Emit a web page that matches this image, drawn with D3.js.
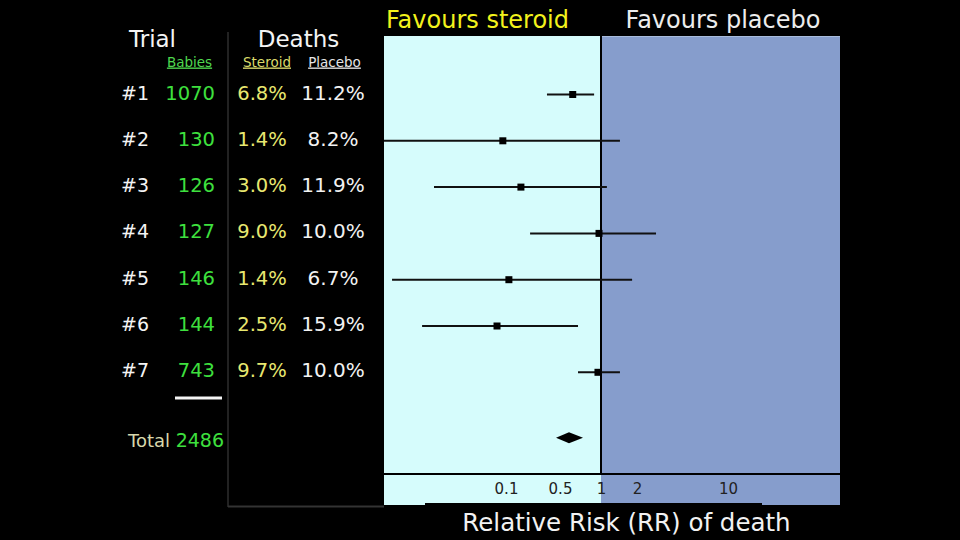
<!DOCTYPE html>
<html>
<head>
<meta charset="utf-8">
<script src="https://cdn.jsdelivr.net/npm/d3@7"></script>
<style>
  html, body { margin: 0; padding: 0; background: #000; }
  svg { display: block; font-family: "DejaVu Sans", Verdana, sans-serif; }
</style>
</head>
<body>
<svg id="chart" width="960" height="540"></svg>
<script>
// ---- data ----
const trials = ["#1", "#2", "#3", "#4", "#5", "#6", "#7"];
const babies = [1070, 130, 126, 127, 146, 144, 743];
const steroidDeaths = [6.8, 1.4, 3.0, 9.0, 1.4, 2.5, 9.7];
const placeboDeaths = [11.2, 8.2, 11.9, 10.0, 6.7, 15.9, 10.0];
const rrPoint = [0.62, 0.091, 0.156, 0.967, 0.109, 0.0765, 0.95];
const rrLow = [0.339, 0.002, 0.0117, 0.205, 0.00335, 0.0082, 0.678];
const rrHigh = [0.89, 1.44, 1.12, 2.80, 1.82, 0.678, 1.44];
const totalBabies = 2486;
const pooledRR = [0.582];
const pooledLow = [0.444];
const pooledHigh = [0.738];
const tickValues = [0.1, 0.5, 1, 2, 10];
const tickLabels = ["0.1", "0.5", "1", "2", "10"];

// ---- layout ----
const svg = d3.select("#chart");
const plot = { left: 384, right: 840, top: 36, axisY: 474, bottom: 505 };

const x = d3.scaleLog()
  .domain(tickValues)
  .range([506, 560, 601, 637, 728]);

// row positions (index 7.5 = total row)
const y = d3.scaleLinear().domain([0, 1]).range([92.5, 138.8]);

const fmtPct = v => d3.format(".1f")(v) + "%";

// ---- left table panel ----
svg.append("line")
  .attr("x1", 228).attr("x2", 228).attr("y1", 32).attr("y2", 507)
  .attr("stroke", "#2e2e2e").attr("stroke-width", 1.5);
svg.append("line")
  .attr("x1", 228).attr("x2", plot.left).attr("y1", 506.5).attr("y2", 506.5)
  .attr("stroke", "#333").attr("stroke-width", 2);

// headers
svg.append("text").text("Trial")
  .attr("x", 152.5).attr("y", 47).attr("text-anchor", "middle")
  .attr("font-size", 23).attr("fill", "#f4f4f4");
svg.append("text").text("Deaths")
  .attr("x", 298.5).attr("y", 47).attr("text-anchor", "middle")
  .attr("font-size", 23).attr("fill", "#f4f4f4");

const subHeads = [
  { t: "Babies", cx: 189.5, c: "#4fd84f" },
  { t: "Steroid", cx: 267, c: "#dada6a" },
  { t: "Placebo", cx: 334.5, c: "#e6e6e6" }
];
subHeads.forEach(h => {
  svg.append("text").text(h.t)
    .attr("x", h.cx).attr("y", 66.5).attr("text-anchor", "middle")
    .attr("font-size", 13.5).attr("fill", h.c)
    .attr("text-decoration", "underline");
});

// rows
const rows = svg.append("g").selectAll("g").data(trials).join("g");
rows.append("text").text(d => d)
  .attr("x", 121).attr("y", (d, i) => y(i) + 7)
  .attr("font-size", 19).attr("fill", "#f4f4f4");
rows.append("text").text((d, i) => babies[i])
  .attr("x", 215).attr("y", (d, i) => y(i) + 7).attr("text-anchor", "end")
  .attr("font-size", 19.5).attr("fill", "#3ee03e");
rows.append("text").text((d, i) => fmtPct(steroidDeaths[i]))
  .attr("x", 262).attr("y", (d, i) => y(i) + 7).attr("text-anchor", "middle")
  .attr("font-size", 19.5).attr("fill", "#e8e870");
rows.append("text").text((d, i) => fmtPct(placeboDeaths[i]))
  .attr("x", 333).attr("y", (d, i) => y(i) + 7).attr("text-anchor", "middle")
  .attr("font-size", 20).attr("fill", "#f2f2f2");

// separator bar + total
svg.append("line")
  .attr("x1", 175).attr("x2", 222).attr("y1", y(6.6)).attr("y2", y(6.6))
  .attr("stroke", "#f4f4f4").attr("stroke-width", 3);
svg.append("text").text("Total")
  .attr("x", 170).attr("y", y(7.5) + 7).attr("text-anchor", "end")
  .attr("font-size", 18).attr("fill", "#d8d8ac");
svg.append("text").text(totalBabies)
  .attr("x", 224).attr("y", y(7.5) + 7).attr("text-anchor", "end")
  .attr("font-size", 19).attr("fill", "#3ee03e");

// ---- plot panel ----
svg.append("text").text("Favours steroid")
  .attr("x", 386).attr("y", 28)
  .attr("font-size", 24).attr("fill", "#f2f21c");
svg.append("text").text("Favours placebo")
  .attr("x", 723).attr("y", 28).attr("text-anchor", "middle")
  .attr("font-size", 24).attr("fill", "#ececec");

svg.append("rect")
  .attr("x", plot.left).attr("y", plot.top)
  .attr("width", x(1) - plot.left).attr("height", plot.bottom - plot.top)
  .attr("fill", "#d6fcfc");
svg.append("rect")
  .attr("x", x(1)).attr("y", plot.top)
  .attr("width", plot.right - x(1)).attr("height", plot.bottom - plot.top)
  .attr("fill", "#869dcc");
svg.append("line")
  .attr("x1", x(1)).attr("x2", plot.right).attr("y1", plot.top + 0.5).attr("y2", plot.top + 0.5)
  .attr("stroke", "#a8bcdc").attr("stroke-width", 1);

svg.append("defs").append("clipPath").attr("id", "clip")
  .append("rect").attr("x", plot.left).attr("y", plot.top)
  .attr("width", plot.right - plot.left).attr("height", plot.bottom - plot.top);

// null line and axis line
svg.append("line")
  .attr("x1", x(1)).attr("x2", x(1)).attr("y1", plot.top).attr("y2", plot.axisY)
  .attr("stroke", "#000").attr("stroke-width", 2);
svg.append("line")
  .attr("x1", plot.left).attr("x2", plot.right).attr("y1", plot.axisY).attr("y2", plot.axisY)
  .attr("stroke", "#000").attr("stroke-width", 2);

// axis tick labels
const axis = d3.axisBottom(x)
  .tickValues(tickValues)
  .tickFormat((d, i) => tickLabels[i])
  .tickSize(0).tickPadding(9);
const axG = svg.append("g").attr("transform", `translate(0,${plot.axisY})`).call(axis);
axG.select(".domain").remove();
axG.selectAll("text")
  .attr("font-size", 15).attr("fill", "#222")
  .attr("font-family", "DejaVu Sans, Verdana, sans-serif");

// CIs and points
const marks = svg.append("g").attr("clip-path", "url(#clip)");
const ciY = i => y(i) + 2;
marks.selectAll("line.ci").data(trials).join("line").attr("class", "ci")
  .attr("x1", (d, i) => x(rrLow[i])).attr("x2", (d, i) => x(rrHigh[i]))
  .attr("y1", (d, i) => ciY(i)).attr("y2", (d, i) => ciY(i))
  .attr("stroke", "#111").attr("stroke-width", 2);
const sq = 7;
marks.selectAll("rect.pt").data(trials).join("rect").attr("class", "pt")
  .attr("x", (d, i) => x(rrPoint[i]) - sq / 2).attr("y", (d, i) => ciY(i) - sq / 2)
  .attr("width", sq).attr("height", sq).attr("fill", "#000");

// pooled diamond
const dy = y(7.5) - 2, dh = 5.5;
marks.selectAll("path.pooled").data(pooledRR).join("path").attr("class", "pooled")
  .attr("d", (d, i) => `M${x(pooledLow[i])},${dy} L${x(d)},${dy - dh} L${x(pooledHigh[i])},${dy} L${x(d)},${dy + dh} Z`)
  .attr("fill", "#000");

// x title
svg.append("rect")
  .attr("x", 425).attr("y", 503).attr("width", 337).attr("height", 37).attr("fill", "#000");
svg.append("text").text("Relative Risk (RR) of death")
  .attr("x", 626.5).attr("y", 531).attr("text-anchor", "middle")
  .attr("font-size", 24.5).attr("fill", "#f2f2f2");
</script>
</body>
</html>
